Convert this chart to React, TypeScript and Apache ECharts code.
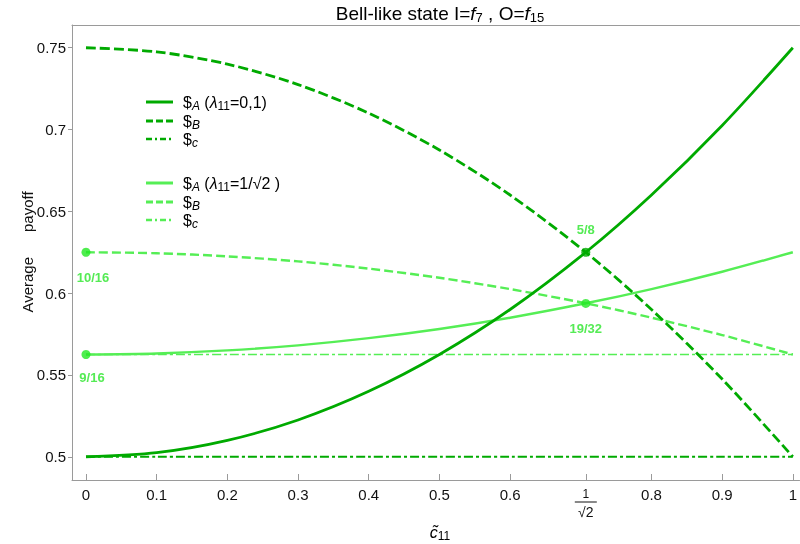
import React, { useEffect, useRef } from "react";
import * as echarts from "echarts";

// sample positions along c~11 (including 1/sqrt2)
const xs = [0, 0.1, 0.2, 0.3, 0.4, 0.5, 0.6, 0.7071, 0.8, 0.9, 1];
// lambda11 = 0,1
const payA0 = [0.5, 0.5025, 0.51, 0.5225, 0.54, 0.5625, 0.59, 0.625, 0.66, 0.7025, 0.75];
const payB0 = [0.75, 0.7475, 0.74, 0.7275, 0.71, 0.6875, 0.66, 0.625, 0.59, 0.5475, 0.5];
const payC0 = [0.5, 0.5, 0.5, 0.5, 0.5, 0.5, 0.5, 0.5, 0.5, 0.5, 0.5];
// lambda11 = 1/sqrt2
const payA1 = [0.5625, 0.5631, 0.565, 0.5681, 0.5725, 0.5781, 0.585, 0.5938, 0.6025, 0.6131, 0.625];
const payB1 = [0.625, 0.6244, 0.6225, 0.6194, 0.615, 0.6094, 0.6025, 0.5938, 0.585, 0.5744, 0.5625];
const payC1 = [0.5625, 0.5625, 0.5625, 0.5625, 0.5625, 0.5625, 0.5625, 0.5625, 0.5625, 0.5625, 0.5625];

// marked points
const ptX = [0, 0, 0.7071, 0.7071];
const ptY = [0.625, 0.5625, 0.625, 0.59375];
const ptLabels = ["10/16", "9/16", "5/8", "19/32"];

const xTicks = [0, 0.1, 0.2, 0.3, 0.4, 0.5, 0.6, 0.7071, 0.8, 0.9, 1];
const yTicks = [0.5, 0.55, 0.6, 0.65, 0.7, 0.75];

const DARK = "#00aa00";
const LIGHT = "#55ee55";
const LABEL = "#2be62b";
const AXIS = "#9a9a9a";
const TXT = "#111";
const FONT = "'Liberation Sans', Arial, sans-serif";

const sub = { fontSize: 12, fontFamily: FONT, color: TXT, padding: [7, 0, 0, 0] };
const subI = { ...sub, fontStyle: "italic" };
const norm = { fontSize: 16, fontFamily: FONT, color: TXT };
const ital = { ...norm, fontStyle: "italic" };
const richBase = { t: norm, i: ital, s: sub, si: subI };

export default function App() {
  const ref = useRef<HTMLDivElement>(null);
  useEffect(() => {
    const chart = echarts.init(ref.current!, null, { renderer: "svg" });
    const mk = (arr: number[]) => xs.map((x, i) => [x, arr[i]]);
    const lineSeries = (name: string, arr: number[], color: string, width: number, type: any, z: number) => ({
      name,
      type: "line",
      data: mk(arr),
      smooth: 0.3,
      showSymbol: false,
      z,
      lineStyle: { color, width, type },
      silent: true,
    });

    const legendRows = [
      { y: 102, color: DARK, w: 3, dash: null, text: "{t|$}{si|A}{t| (}{i|λ}{s|11}{t|=0,1)}" },
      { y: 121, color: DARK, w: 3, dash: [7, 3], text: "{t|$}{si|B}" },
      { y: 139, color: DARK, w: 2.5, dash: [6, 3, 2, 3], text: "{t|$}{si|c}" },
      { y: 183, color: LIGHT, w: 3, dash: null, text: "{t|$}{si|A}{t| (}{i|λ}{s|11}{t|=1/√2 )}" },
      { y: 202, color: LIGHT, w: 3, dash: [7, 3], text: "{t|$}{si|B}" },
      { y: 220, color: LIGHT, w: 2.5, dash: [6, 3, 2, 3], text: "{t|$}{si|c}" },
    ];
    const legendGraphics: any[] = [];
    legendRows.forEach((r) => {
      legendGraphics.push({
        type: "line",
        shape: { x1: 146, y1: r.y, x2: 173, y2: r.y },
        style: { stroke: r.color, lineWidth: r.w, lineDash: r.dash || undefined },
      });
      legendGraphics.push({
        type: "text",
        x: 183,
        y: r.y,
        style: { text: r.text, rich: richBase, verticalAlign: "middle", textAlign: "left" },
      });
    });

    chart.setOption({
      animation: false,
      grid: { left: 72, right: 0, top: 25, bottom: 64 },
      xAxis: [
        {
          type: "value",
          min: -0.0198,
          max: 1.0095,
          splitLine: { show: false },
          axisLine: { show: true, onZero: false, lineStyle: { color: AXIS, width: 1 } },
          axisTick: { show: true, inside: true, length: 6, customValues: xTicks, lineStyle: { color: AXIS } },
          axisLabel: {
            customValues: xTicks,
            margin: 7,
            fontSize: 15,
            fontFamily: FONT,
            color: TXT,
            formatter: (v: number) => (Math.abs(v - 0.7071) < 0.001 ? "{n|1}\n{l|}\n{d|√2}" : String(v)),
            rich: {
              n: { fontSize: 12, fontFamily: FONT, color: TXT, align: "center", lineHeight: 13 },
              l: { width: 22, height: 1, backgroundColor: TXT, align: "center", lineHeight: 4 },
              d: { fontSize: 14, fontFamily: FONT, color: TXT, align: "center", lineHeight: 16 },
            },
          },
        },
        {
          type: "value",
          position: "top",
          min: -0.0198,
          max: 1.0095,
          splitLine: { show: false },
          axisLine: { show: true, onZero: false, lineStyle: { color: AXIS, width: 1 } },
          axisTick: { show: false },
          axisLabel: { show: false },
        },
      ],
      yAxis: {
        type: "value",
        min: 0.4858,
        max: 0.7639,
        splitLine: { show: false },
        axisLine: { show: true, onZero: false, lineStyle: { color: AXIS, width: 1 } },
        axisTick: { show: true, length: 4, customValues: yTicks, lineStyle: { color: AXIS } },
        axisLabel: {
          customValues: yTicks,
          margin: 6,
          fontSize: 15,
          fontFamily: FONT,
          color: TXT,
          formatter: (v: number) => String(v),
        },
      },
      series: [
        lineSeries("$c λ=1/√2", payC1, LIGHT, 1.6, [9, 3, 3, 3], 2),
        lineSeries("$B λ=1/√2", payB1, LIGHT, 2.4, [9, 4], 2),
        lineSeries("$A λ=1/√2", payA1, LIGHT, 2.4, "solid", 2),
        lineSeries("$c λ=0,1", payC0, DARK, 2, [9, 3, 3, 3], 3),
        lineSeries("$B λ=0,1", payB0, DARK, 2.8, [10, 4], 3),
        lineSeries("$A λ=0,1", payA0, DARK, 2.8, "solid", 3),
        {
          type: "scatter",
          z: 5,
          symbolSize: 9,
          silent: true,
          data: ptX.map((x, i) => ({
            value: [x, ptY[i]],
            itemStyle: { color: i === 2 ? DARK : "#22e822" },
            label: {
              show: true,
              position: "inside",
              offset: [[7, 25], [6, 23], [0, -23], [0, 25]][i],
              formatter: ptLabels[i],
              color: LABEL,
              fontWeight: "bold",
              fontSize: 13,
              fontFamily: FONT,
            },
          })),
        },
      ],
      graphic: [
        {
          type: "text",
          x: 440,
          y: 13,
          style: {
            text: "{t|Bell‐like state I=}{i|f}{s|7}{t| , O=}{i|f}{s|15}",
            rich: {
              t: { fontSize: 19, fontFamily: FONT, color: TXT },
              i: { fontSize: 19, fontFamily: FONT, color: TXT, fontStyle: "italic" },
              s: { fontSize: 13, fontFamily: FONT, color: TXT, padding: [8, 0, 0, 0] },
            },
            textAlign: "center",
            verticalAlign: "middle",
          },
        },
        {
          type: "text",
          x: 27,
          y: 252,
          rotation: Math.PI / 2,
          style: {
            text: "Average      payoff",
            fontSize: 15,
            fontFamily: FONT,
            fill: TXT,
            textAlign: "center",
            verticalAlign: "middle",
          },
        },
        {
          type: "text",
          x: 440,
          y: 532,
          style: {
            text: "{i|c̃}{s|11}",
            rich: {
              i: { fontSize: 16, fontFamily: FONT, color: TXT, fontStyle: "italic" },
              s: { fontSize: 12, fontFamily: FONT, color: TXT, padding: [7, 0, 0, 0] },
            },
            textAlign: "center",
            verticalAlign: "middle",
          },
        },
        ...legendGraphics,
      ],
    });
    return () => chart.dispose();
  }, []);
  return <div ref={ref} style={{ position: "fixed", left: 0, top: 0, width: 800, height: 544 }} />;
}
